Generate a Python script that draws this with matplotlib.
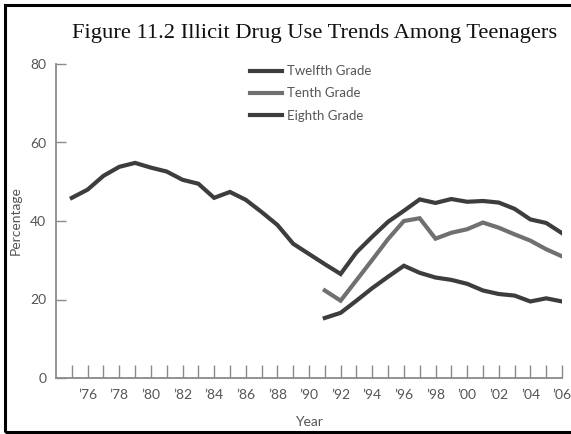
import matplotlib
matplotlib.use("Agg")
import matplotlib.pyplot as plt
from matplotlib.patches import Rectangle

# yearly percentages read per grade
years_12 = list(range(1975, 2007))
twelfth = [45.9, 48.0, 51.5, 53.8, 54.8, 53.6, 52.6, 50.5, 49.5, 45.9,
           47.4, 45.4, 42.3, 39.0, 34.2, 31.6, 29.0, 26.5, 32.0, 36.0,
           39.8, 42.6, 45.5, 44.6, 45.6, 44.9, 45.1, 44.7, 43.1, 40.4,
           39.5, 36.9]
years_lo = list(range(1991, 2007))
tenth = [22.3, 19.7, 24.9, 30.1, 35.4, 40.0, 40.7, 35.5, 37.0, 37.9,
         39.6, 38.3, 36.6, 35.0, 32.8, 31.0]
eighth = [15.3, 16.6, 19.7, 22.9, 25.8, 28.6, 26.8, 25.6, 25.0, 24.0,
          22.3, 21.4, 21.0, 19.5, 20.3, 19.5]

labels = ["Twelfth Grade", "Tenth Grade", "Eighth Grade"]
dark = "#3d3d3d"
mid = "#707070"
grey = "#8a8a8a"
txt = "#555555"
sans = "Lato"

fig = plt.figure(figsize=(5.71, 4.34), dpi=100)
ax = fig.add_axes([56/571, 56/434, (562-56)/571, (378-64)/434])

ax.plot(years_12, twelfth, color=dark, lw=3.0, label=labels[0], solid_joinstyle="miter")
ax.plot(years_lo, tenth, color=mid, lw=3.0, label=labels[1], solid_joinstyle="miter")
ax.plot(years_lo, eighth, color=dark, lw=3.0, label=labels[2], solid_joinstyle="miter")

ax.set_xlim(1974, 2006)
ax.set_ylim(0, 80)
for s in ["top", "right"]:
    ax.spines[s].set_visible(False)
for s in ["left", "bottom"]:
    ax.spines[s].set_color(grey)
    ax.spines[s].set_linewidth(1.3)

ax.set_xticks(range(1976, 2007, 2))
ax.set_xticklabels(["\u2019%02d" % (y % 100) for y in range(1976, 2007, 2)])
ax.set_xticks(range(1975, 2007, 2), minor=True)
ax.set_yticks([0, 20, 40, 60, 80])
ax.tick_params(axis="x", which="both", direction="in", length=9.5, width=1.0,
               color=grey, labelsize=10, labelcolor=txt, pad=8)
ax.tick_params(axis="y", direction="in", length=7.5, width=1.0, color=grey,
               labelsize=10, labelcolor=txt, pad=7)
for t in ax.get_xticklabels() + ax.get_yticklabels():
    t.set_family(sans)

ax.set_xlabel("Year", fontsize=10, color=txt, family=sans, labelpad=11)
ax.set_ylabel("Percentage", fontsize=10, color=txt, family=sans, labelpad=6)

leg = ax.legend(loc="upper left", bbox_to_anchor=(0.36, 1.034), frameon=False,
                handlelength=2.4, handletextpad=0.4, labelspacing=0.78,
                prop={"family": sans, "size": 9.5})
for t in leg.get_texts():
    t.set_color(txt)

fig.text(0.551, 0.922, "Figure 11.2 Illicit Drug Use Trends Among Teenagers",
         family="Liberation Serif", fontsize=16.2, ha="center", va="center",
         color="#111111")

# black frame around the figure
fig.patches.append(Rectangle((5/571, 2/434), 1.2, 427/434, transform=fig.transFigure,
                             fill=False, edgecolor="black", lw=2.2))

fig.savefig("out.png", dpi=100)
